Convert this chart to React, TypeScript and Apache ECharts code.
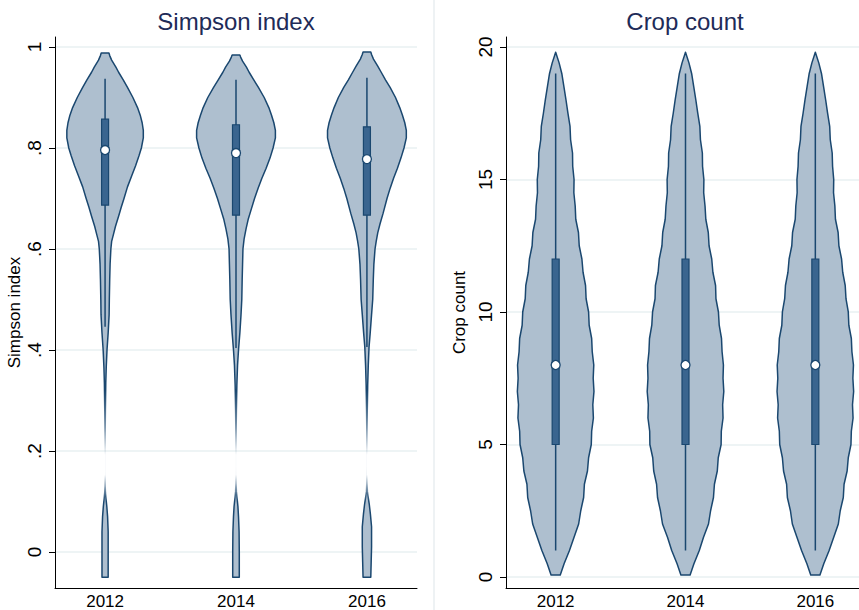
import React, { useEffect, useRef } from "react";
import * as echarts from "echarts";

// Survey years shown on both panels
const YEARS = [2012, 2014, 2016];
const SIMPSON_TICKS = [0, 0.2, 0.4, 0.6, 0.8, 1];
const CROP_TICKS = [0, 5, 10, 15, 20];

// Kernel density profiles: [value, relative density] from bottom to top
const SIMPSON_2012: [number, number][] = [
  [-0.05, 0.08], [0.0, 0.08], [0.04, 0.08], [0.07, 0.065], [0.09, 0.045], [0.105, 0.025],
  [0.117, 0.01], [0.13, 0.003], [0.16, 0.001], [0.2, 0.001], [0.235, 0.003], [0.28, 0.008],
  [0.335, 0.018], [0.366, 0.03], [0.4, 0.05], [0.434, 0.08], [0.47, 0.105], [0.5, 0.11],
  [0.54, 0.12], [0.57, 0.13], [0.6, 0.15], [0.615, 0.17], [0.63, 0.22], [0.645, 0.27],
  [0.665, 0.35], [0.683, 0.42], [0.7, 0.49], [0.723, 0.58], [0.745, 0.69], [0.765, 0.79],
  [0.785, 0.88], [0.8, 0.94], [0.82, 0.99], [0.835, 0.99], [0.85, 0.96], [0.865, 0.91],
  [0.88, 0.84], [0.9, 0.72], [0.92, 0.58], [0.935, 0.47], [0.95, 0.35], [0.96, 0.28],
  [0.974, 0.17], [0.983, 0.12], [0.988, 0.1],
];
const SIMPSON_2014: [number, number][] = [
  [-0.05, 0.085], [0.0, 0.085], [0.04, 0.08], [0.07, 0.065], [0.09, 0.05], [0.105, 0.03],
  [0.12, 0.01], [0.135, 0.003], [0.17, 0.001], [0.2, 0.001], [0.24, 0.004], [0.28, 0.01],
  [0.33, 0.022], [0.37, 0.04], [0.4, 0.065], [0.434, 0.1], [0.47, 0.13], [0.5, 0.15],
  [0.54, 0.16], [0.57, 0.17], [0.6, 0.18], [0.62, 0.21], [0.64, 0.26], [0.66, 0.32],
  [0.68, 0.4], [0.7, 0.48], [0.72, 0.57], [0.74, 0.67], [0.76, 0.78], [0.78, 0.88],
  [0.8, 0.96], [0.82, 1.02], [0.835, 1.02], [0.85, 0.98], [0.865, 0.92], [0.88, 0.85],
  [0.9, 0.73], [0.92, 0.58], [0.935, 0.46], [0.95, 0.34], [0.96, 0.27], [0.972, 0.17],
  [0.98, 0.12], [0.984, 0.1],
];
const SIMPSON_2016: [number, number][] = [
  [-0.05, 0.1], [-0.02, 0.11], [0.01, 0.12], [0.05, 0.12], [0.075, 0.09], [0.095, 0.06],
  [0.11, 0.03], [0.12, 0.012], [0.135, 0.004], [0.17, 0.001], [0.2, 0.001], [0.24, 0.003],
  [0.28, 0.009], [0.33, 0.02], [0.37, 0.035], [0.406, 0.055], [0.434, 0.085], [0.47, 0.12],
  [0.5, 0.15], [0.54, 0.165], [0.57, 0.18], [0.6, 0.21], [0.615, 0.24], [0.632, 0.28],
  [0.65, 0.34], [0.671, 0.42], [0.7, 0.52], [0.72, 0.6], [0.74, 0.69], [0.76, 0.79],
  [0.78, 0.88], [0.8, 0.96], [0.82, 1.02], [0.835, 1.02], [0.85, 0.98], [0.865, 0.92],
  [0.88, 0.85], [0.9, 0.74], [0.92, 0.6], [0.935, 0.48], [0.95, 0.37], [0.962, 0.28],
  [0.976, 0.17], [0.985, 0.12], [0.99, 0.1],
];

const SIMPSON_LOW = [0.446, 0.404, 0.406];
const SIMPSON_Q1 = [0.687, 0.667, 0.667];
const SIMPSON_MEDIAN = [0.796, 0.79, 0.778];
const SIMPSON_Q3 = [0.857, 0.846, 0.842];
const SIMPSON_HIGH = [0.937, 0.935, 0.939];

const CROP_2012: [number, number][] = [
  [0.08, 0.12], [0.5, 0.22], [1.0, 0.36], [1.5, 0.48], [2.0, 0.6], [2.5, 0.655],
  [3.0, 0.73], [3.5, 0.75], [4.0, 0.83], [4.5, 0.86], [5.0, 0.93], [5.5, 0.94],
  [6.0, 0.985], [6.5, 0.97], [7.0, 1.0], [7.5, 0.98], [8.0, 0.995], [8.5, 0.955],
  [9.0, 0.94], [9.5, 0.875], [10.0, 0.86], [10.5, 0.795], [11.0, 0.78], [11.5, 0.715],
  [12.0, 0.685], [12.5, 0.615], [13.0, 0.595], [13.5, 0.525], [14.0, 0.51], [14.5, 0.475],
  [15.0, 0.48], [15.5, 0.445], [16.0, 0.44], [16.5, 0.39], [17.0, 0.375], [17.5, 0.32],
  [18.0, 0.27], [18.5, 0.215], [19.0, 0.16], [19.4, 0.09], [19.8, 0.0],
];
const CROP_2014: [number, number][] = [
  [0.08, 0.12], [0.5, 0.22], [1.0, 0.36], [1.5, 0.47], [2.0, 0.6], [2.5, 0.655],
  [3.0, 0.73], [3.5, 0.755], [4.0, 0.83], [4.5, 0.855], [5.0, 0.93], [5.5, 0.935],
  [6.0, 0.98], [6.5, 0.97], [7.0, 1.0], [7.5, 0.98], [8.0, 0.99], [8.5, 0.955],
  [9.0, 0.94], [9.5, 0.88], [10.0, 0.86], [10.5, 0.795], [11.0, 0.785], [11.5, 0.715],
  [12.0, 0.685], [12.5, 0.615], [13.0, 0.595], [13.5, 0.53], [14.0, 0.51], [14.5, 0.475],
  [15.0, 0.48], [15.5, 0.445], [16.0, 0.44], [16.5, 0.39], [17.0, 0.375], [17.5, 0.32],
  [18.0, 0.27], [18.5, 0.215], [19.0, 0.16], [19.4, 0.09], [19.8, 0.0],
];
const CROP_2016: [number, number][] = [
  [0.08, 0.12], [0.5, 0.22], [1.0, 0.36], [1.5, 0.48], [2.0, 0.6], [2.5, 0.65],
  [3.0, 0.73], [3.5, 0.75], [4.0, 0.83], [4.5, 0.86], [5.0, 0.93], [5.5, 0.94],
  [6.0, 0.985], [6.5, 0.97], [7.0, 1.0], [7.5, 0.98], [8.0, 0.995], [8.5, 0.955],
  [9.0, 0.94], [9.5, 0.875], [10.0, 0.86], [10.5, 0.8], [11.0, 0.78], [11.5, 0.715],
  [12.0, 0.685], [12.5, 0.615], [13.0, 0.595], [13.5, 0.525], [14.0, 0.51], [14.5, 0.475],
  [15.0, 0.48], [15.5, 0.45], [16.0, 0.44], [16.5, 0.39], [17.0, 0.375], [17.5, 0.32],
  [18.0, 0.27], [18.5, 0.215], [19.0, 0.16], [19.4, 0.09], [19.8, 0.0],
];

const CROP_LOW = [1, 1, 1];
const CROP_Q1 = [5, 5, 5];
const CROP_MEDIAN = [8, 8, 8];
const CROP_Q3 = [12, 12, 12];
const CROP_HIGH = [19, 19, 19];

// Styling
const NAVY = "#1a476f";
const VIOLIN_FILL = "#aebfcf";
const BOX_FILL = "#3a658f";
const GRID_COLOR = "#e8f0f2";
const TITLE_COLOR = "#1e2b58";
const FONT = "'Liberation Sans', Arial, Helvetica, sans-serif";
const HALF_WIDTH = 0.59; // violin half width (in years) at peak density
const BOX_PX = 7;

type Stats = { low: number[]; q1: number[]; med: number[]; q3: number[]; high: number[] };

function stataLabel(v: number): string {
  if (v === 0) return "0";
  if (Number.isInteger(v)) return String(v);
  return String(+v.toFixed(2)).replace(/^0/, "");
}

function makeViolin(profiles: [number, number][][], s: Stats, fade?: [number, number]) {
  return (params: any, api: any) => {
    const i = params.dataIndex;
    const year = api.value(0);
    const prof = profiles[i];
    const rightSide = prof.map(([v, d]) => api.coord([year + d * HALF_WIDTH, v]));
    const leftSide = prof.map(([v, d]) => api.coord([year - d * HALF_WIDTH, v])).reverse();
    const points = rightSide.concat(leftSide);

    let stroke: any = NAVY;
    if (fade) {
      // thin tail fades out between the upper and lower lobes
      const yTop = api.coord([year, fade[0]])[1];
      const yBot = api.coord([year, fade[1]])[1];
      stroke = {
        type: "linear", x: 0, y: yTop, x2: 0, y2: yBot, global: true,
        colorStops: [
          { offset: 0, color: "rgba(26,71,111,1)" },
          { offset: 0.35, color: "rgba(26,71,111,0.5)" },
          { offset: 0.58, color: "rgba(26,71,111,0)" },
          { offset: 0.76, color: "rgba(26,71,111,0)" },
          { offset: 1, color: "rgba(26,71,111,1)" },
        ],
      };
    }

    const pLow = api.coord([year, s.low[i]]);
    const pHigh = api.coord([year, s.high[i]]);
    const pQ1 = api.coord([year, s.q1[i]]);
    const pQ3 = api.coord([year, s.q3[i]]);
    const pMed = api.coord([year, s.med[i]]);

    return {
      type: "group",
      children: [
        {
          type: "polygon",
          shape: { points },
          style: { fill: VIOLIN_FILL, stroke, lineWidth: 1.5, lineJoin: "round" },
        },
        {
          type: "line",
          shape: { x1: pLow[0], y1: pLow[1], x2: pHigh[0], y2: pHigh[1] },
          style: { stroke: NAVY, lineWidth: 1.5 },
        },
        {
          type: "rect",
          shape: { x: pQ3[0] - BOX_PX / 2, y: pQ3[1], width: BOX_PX, height: pQ1[1] - pQ3[1] },
          style: { fill: BOX_FILL, stroke: NAVY, lineWidth: 1.2 },
        },
        {
          type: "circle",
          shape: { cx: pMed[0], cy: pMed[1], r: 4.5 },
          style: { fill: "#ffffff", stroke: NAVY, lineWidth: 1.3 },
        },
      ],
    };
  };
}

function xAxisFor(gridIndex: number) {
  return {
    type: "value",
    gridIndex,
    min: 2011.235,
    max: 2016.765,
    axisLine: { show: true, onZero: false, lineStyle: { color: "#000", width: 1 } },
    axisTick: { show: false },
    splitLine: { show: false },
    axisLabel: {
      customValues: YEARS,
      formatter: (v: number) => String(v),
      fontSize: 17,
      color: "#000",
      fontFamily: FONT,
      margin: 5,
    },
  };
}

function yAxisFor(gridIndex: number, min: number, max: number, ticks: number[], name: string, nameGap: number) {
  return {
    type: "value",
    gridIndex,
    min,
    max,
    name,
    nameLocation: "middle",
    nameGap,
    nameRotate: 90,
    nameTextStyle: { fontSize: 17, color: "#000", fontFamily: FONT },
    axisLine: { show: true, onZero: false, lineStyle: { color: "#000", width: 1 } },
    axisTick: { show: true, length: 6, customValues: ticks, lineStyle: { color: "#000", width: 1 } },
    axisLabel: {
      customValues: ticks,
      rotate: 90,
      formatter: stataLabel,
      fontSize: 19,
      color: "#000",
      fontFamily: FONT,
      margin: 11,
    },
    splitLine: { show: true, lineStyle: { color: GRID_COLOR, width: 1.5 } },
  };
}

export default function App() {
  const ref = useRef<HTMLDivElement>(null);

  useEffect(() => {
    if (!ref.current) return;
    const chart = echarts.init(ref.current, undefined, { renderer: "svg" });

    const simpsonStats: Stats = { low: SIMPSON_LOW, q1: SIMPSON_Q1, med: SIMPSON_MEDIAN, q3: SIMPSON_Q3, high: SIMPSON_HIGH };
    const cropStats: Stats = { low: CROP_LOW, q1: CROP_Q1, med: CROP_MEDIAN, q3: CROP_Q3, high: CROP_HIGH };

    chart.setOption({
      animation: false,
      backgroundColor: "#ffffff",
      textStyle: { fontFamily: FONT },
      grid: [
        { left: 55, top: 37, width: 362, height: 551, containLabel: false, outerBoundsMode: "none" },
        { left: 506, top: 37, width: 359, height: 551, containLabel: false, outerBoundsMode: "none" },
      ],
      xAxis: [xAxisFor(0), xAxisFor(1)],
      yAxis: [
        yAxisFor(0, -0.0713, 1.0198, SIMPSON_TICKS, "Simpson index", 32),
        yAxisFor(1, -0.415, 20.377, CROP_TICKS, "Crop count", 38),
      ],
      graphic: [
        {
          type: "line",
          shape: { x1: 434, y1: 0, x2: 434, y2: 610 },
          style: { stroke: "#eef2f4", lineWidth: 2 },
          silent: true,
        },
        {
          type: "text",
          x: 236,
          y: 21,
          style: { text: "Simpson index", fill: TITLE_COLOR, font: `24px ${FONT}`, textAlign: "center", textVerticalAlign: "middle" },
        },
        {
          type: "text",
          x: 685,
          y: 21,
          style: { text: "Crop count", fill: TITLE_COLOR, font: `24px ${FONT}`, textAlign: "center", textVerticalAlign: "middle" },
        },
      ],
      series: [
        {
          type: "custom",
          xAxisIndex: 0,
          yAxisIndex: 0,
          z: 3,
          data: YEARS.map((y, i) => [y, SIMPSON_MEDIAN[i]]),
          renderItem: makeViolin([SIMPSON_2012, SIMPSON_2014, SIMPSON_2016], simpsonStats, [0.32, 0.1]),
        },
        {
          type: "custom",
          xAxisIndex: 1,
          yAxisIndex: 1,
          z: 3,
          data: YEARS.map((y, i) => [y, CROP_MEDIAN[i]]),
          renderItem: makeViolin([CROP_2012, CROP_2014, CROP_2016], cropStats),
        },
      ],
    });

    return () => chart.dispose();
  }, []);

  return (
    <div
      ref={ref}
      style={{ position: "fixed", left: 0, top: 0, width: 859, height: 610 }}
    />
  );
}
